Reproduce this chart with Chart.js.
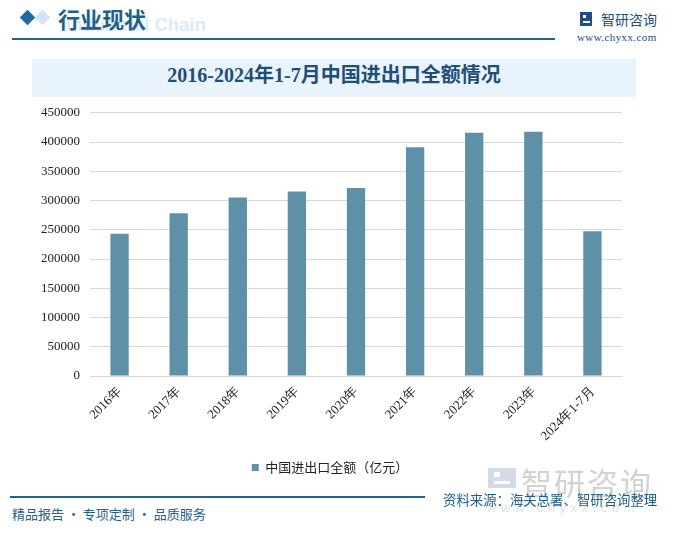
<!DOCTYPE html>
<html>
<head>
<meta charset="utf-8">
<script src="https://cdn.jsdelivr.net/npm/chart.js@4"></script>
<style>
  html, body { margin: 0; padding: 0; background: #fff; }
  #page { position: relative; width: 675px; height: 533px; overflow: hidden; font-family: "Noto Sans CJK SC", sans-serif; }
  .abs { position: absolute; white-space: nowrap; }
  #head-line { left: 12px; top: 38px; width: 543px; height: 2px; background: #1f6391; }
  #foot-line { left: 10px; top: 496px; width: 415px; height: 2px; background: #1f6391; }
  #band { left: 32px; top: 59px; width: 604px; height: 38px; background: #e8f3fb; }
  #title { left: 32px; top: 59px; width: 604px; line-height: 38px; text-align: center; font: bold 20px "Liberation Serif", "Noto Sans CJK SC"; color: #1f4e79; }
  #chart-box { left: 38px; top: 95px; width: 602px; height: 389px; }
</style>
</head>
<body>
<div id="page">
  <!-- header -->
  <div class="abs" style="left:37px;top:12px;width:11px;height:11px;background:#d3e3ef;transform:rotate(45deg);"></div>
  <div class="abs" style="left:22px;top:12px;width:11px;height:11px;background:#1f6aa0;transform:rotate(45deg);"></div>
  <div class="abs" style="left:66px;top:14px;font:bold 18.5px 'Liberation Sans';color:#dcebf7;">Industrial Chain</div>
  <div class="abs" style="left:58px;top:2px;font:bold 22px 'Noto Sans CJK SC';color:#1f5f8b;">行业现状</div>
  <div class="abs" id="head-line"></div>
  <div class="abs" style="left:580px;top:12px;width:12px;height:14px;background:#1f4e8b;"></div>
  <div class="abs" style="left:583px;top:15px;width:3px;height:3px;background:#fff;"></div>
  <div class="abs" style="left:583px;top:21px;width:7px;height:2px;background:#fff;"></div>
  <div class="abs" style="left:601px;top:9px;font:14px 'Noto Sans CJK SC';color:#1f4e79;">智研咨询</div>
  <div class="abs" style="left:577px;top:31px;font:11px 'Liberation Serif';color:#1f4e79;letter-spacing:0.4px;">www.chyxx.com</div>

  <div class="abs" id="band"></div>
  <div class="abs" id="title">2016-2024年1-7月中国进出口全额情况</div>

  <div class="abs" id="chart-box"><canvas id="chart"></canvas></div>

  <!-- footer -->
  <div class="abs" style="left:488px;top:468px;width:28px;height:20px;background:#d3dbe7;"></div>
  <div class="abs" style="left:494px;top:472px;width:6px;height:5px;background:#fff;"></div>
  <div class="abs" style="left:494px;top:481px;width:16px;height:3px;background:#fff;"></div>
  <div class="abs" style="left:521px;top:459px;font:31px 'Noto Sans CJK SC';color:#d2d2d2;letter-spacing:2px;">智研咨询</div>
  <div class="abs" style="left:487px;top:500px;font:13px 'Liberation Sans';color:#e2e2e2;letter-spacing:4.6px;">www.chyxx.com</div>
  <div class="abs" id="foot-line"></div>
  <div class="abs" style="left:443px;top:489px;font:13.4px 'Noto Sans CJK SC';color:#1f5f8b;">资料来源：海关总署、智研咨询整理</div>
  <div class="abs" style="left:12px;top:504px;font:13px 'Noto Sans CJK SC';color:#1f5f8b;">精品报告 · 专项定制 · 品质服务</div>
</div>

<script>
const categories = ['2016年', '2017年', '2018年', '2019年', '2020年', '2021年', '2022年', '2023年', '2024年1-7月'];
const tradeValues = [243400, 278100, 305100, 315600, 321600, 390900, 416000, 417600, 247600];
const seriesName = '中国进出口全额（亿元）';
const yTicks = [0, 50000, 100000, 150000, 200000, 250000, 300000, 350000, 400000, 450000];

const barColor = '#5e91a8';

const ctx = document.getElementById('chart');

new Chart(ctx, {
  type: 'bar',
  data: {
    labels: categories,
    datasets: [{
      label: seriesName,
      data: tradeValues,
      backgroundColor: barColor,
      categoryPercentage: 1,
      barPercentage: 0.31
    }]
  },
  options: {
    responsive: true,
    maintainAspectRatio: false,
    animation: false,
    layout: {
      padding: { top: 2, right: 18, left: 0, bottom: 0 }
    },
    scales: {
      x: {
        grid: { display: false },
        border: { color: '#d9d9d9' },
        ticks: {
          color: '#222',
          font: { family: 'Liberation Serif', size: 13 },
          maxRotation: 45,
          minRotation: 45,
          padding: 0
        },
        afterFit: function(scale) { scale.height = 73; }
      },
      y: {
        min: 0,
        max: 450000,
        afterBuildTicks: function(scale) {
          scale.ticks = yTicks.map(v => ({ value: v }));
        },
        grid: { color: '#d9d9d9', drawTicks: false },
        border: { display: false },
        ticks: {
          color: '#222',
          font: { family: 'Liberation Serif', size: 13 },
          padding: 10,
          callback: function(value) { return String(value); }
        },
        afterFit: function(scale) { scale.width = 52; }
      }
    },
    plugins: {
      legend: {
        position: 'bottom',
        labels: {
          boxWidth: 7,
          boxHeight: 7,
          padding: 12,
          color: '#222',
          font: { family: 'Noto Sans CJK SC', size: 13 }
        }
      },
      tooltip: { enabled: false }
    }
  }
});
</script>
</body>
</html>
